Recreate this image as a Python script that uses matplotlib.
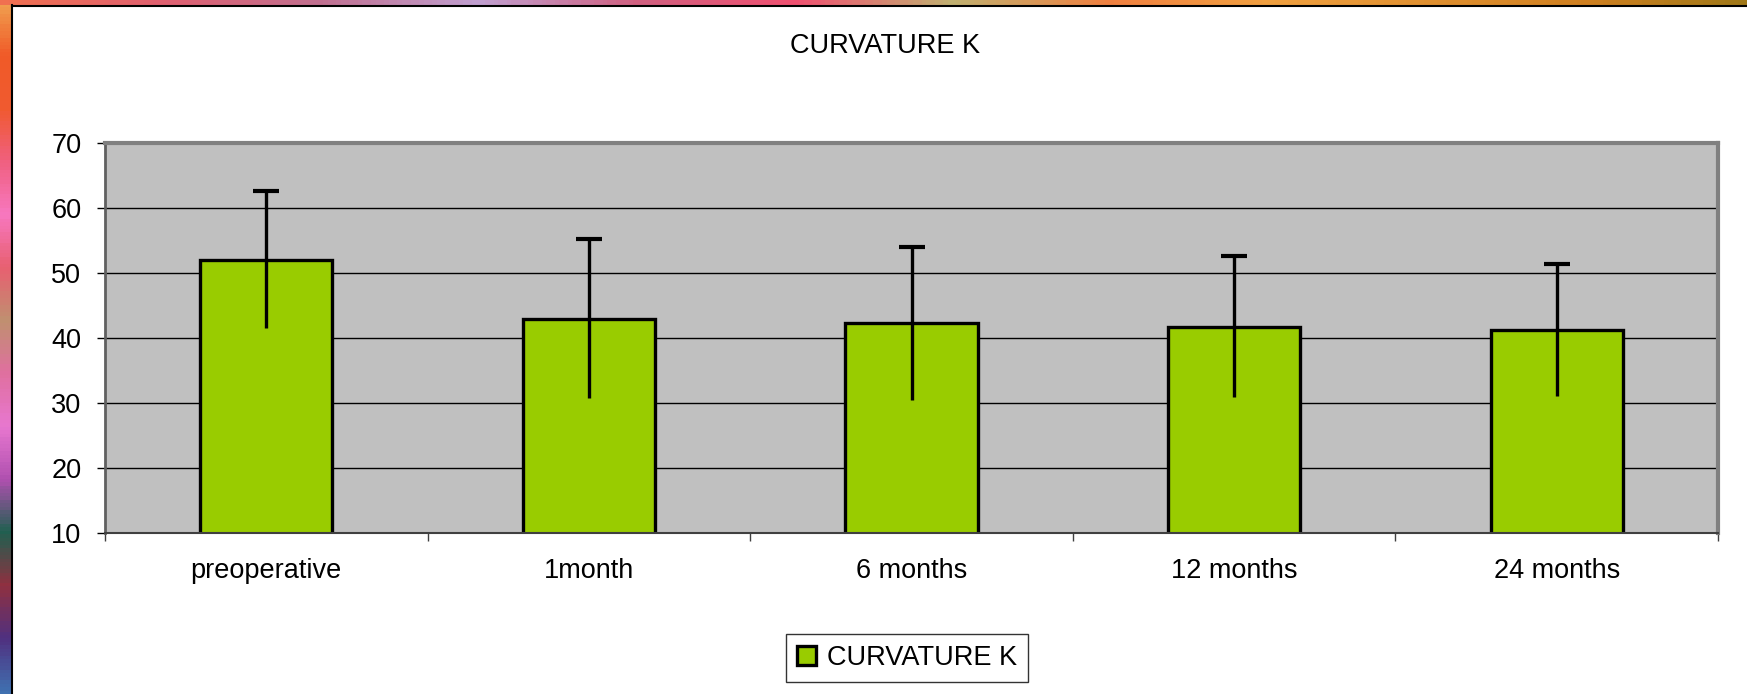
import numpy as np
import matplotlib
matplotlib.use("Agg")
import matplotlib.pyplot as plt
from matplotlib.colors import LinearSegmentedColormap

plt.rcParams['font.family'] = ['Liberation Sans', 'DejaVu Sans']

# данные
categories = ['preoperative', '1month', '6 months', '12 months', '24 months']
means = [52.1, 43.0, 42.3, 41.8, 41.3]
errors = [10.5, 12.2, 11.8, 10.9, 10.1]
yticks = [10, 20, 30, 40, 50, 60, 70]

FS = 19.5

fig = plt.figure(figsize=(17.47, 6.94), dpi=100)
fig.patch.set_facecolor('white')

# декоративная рамка слайда (полосы слева и сверху)
left_cmap = LinearSegmentedColormap.from_list('l', [
    '#f0a050', '#f05a28', '#f05a30', '#f06080', '#f878c0', '#e86070', '#c09070',
    '#e070a0', '#e878d0', '#b050b0', '#206050', '#903040', '#503080', '#4070b0'])
top_cmap = LinearSegmentedColormap.from_list('t', [
    '#f07050', '#e06070', '#c07090', '#c0a0d0', '#d06080', '#f05070', '#c0b070',
    '#f08040', '#f0a040', '#e09030', '#d08020', '#a07818'])
ax_l = fig.add_axes([0, 0, 11 / 1747, 1])
ax_l.imshow(np.linspace(0, 1, 200).reshape(-1, 1), cmap=left_cmap, aspect='auto')
ax_l.axis('off')
ax_t = fig.add_axes([0, 1 - 5 / 694, 1, 5 / 694])
ax_t.imshow(np.linspace(0, 1, 400).reshape(1, -1), cmap=top_cmap, aspect='auto')
ax_t.axis('off')
fig.add_artist(plt.Line2D([11.5 / 1747, 11.5 / 1747], [0, 1 - 5 / 694], color='black', lw=1.5))
fig.add_artist(plt.Line2D([11.5 / 1747, 1], [1 - 5.5 / 694, 1 - 5.5 / 694], color='black', lw=1.5))

# основной график
ax = fig.add_axes([105 / 1747, 1 - 533.3 / 694, (1718 - 105) / 1747, (533.3 - 143.3) / 694])
ax.set_facecolor('#c0c0c0')
x = np.arange(len(categories))

ax.set_axisbelow(True)
ax.yaxis.grid(True, color='black', lw=1.0)
ax.bar(x, means, width=0.41, bottom=0, color='#99cc00', edgecolor='black', lw=2.4,
       label='CURVATURE K', zorder=2)
ax.errorbar(x, means, yerr=errors, fmt='none', ecolor='black', elinewidth=2.4,
            capsize=0, zorder=3)
ax.plot(x, np.array(means) + np.array(errors), ls='none', marker='_', ms=19,
        mew=3.0, color='black', zorder=3)

ax.set_ylim(10, 70)
ax.set_xlim(-0.5, len(categories) - 0.5)
ax.set_yticks(yticks)
ax.set_xticks(x)
ax.set_xticklabels(categories)
ax.set_xticks(np.arange(len(categories) + 1) - 0.5, minor=True)
ax.tick_params(axis='x', which='major', length=0, pad=18, labelsize=FS)
ax.tick_params(axis='x', which='minor', length=6, width=1, color='#404040')
ax.tick_params(axis='y', length=6, width=1, pad=11, labelsize=FS)

for side in ['top', 'right']:
    ax.spines[side].set_color('#808080')
    ax.spines[side].set_linewidth(3)
ax.spines['left'].set_color('#606060')
ax.spines['left'].set_linewidth(2)
ax.spines['bottom'].set_color('#404040')
ax.spines['bottom'].set_linewidth(1.5)

fig.text(885 / 1747, 1 - 46 / 694, 'CURVATURE K', ha='center', va='center', fontsize=FS)

leg = ax.legend(loc='center', bbox_to_anchor=(907 / 1747, 1 - 658 / 694),
                bbox_transform=fig.transFigure, frameon=True, fancybox=False,
                fontsize=FS, handlelength=0.7, handleheight=0.7, handletextpad=0.4,
                borderpad=0.4, borderaxespad=0)
leg.get_frame().set_edgecolor('black')
leg.get_frame().set_linewidth(1.0)

plt.savefig('out.png', dpi=100)
